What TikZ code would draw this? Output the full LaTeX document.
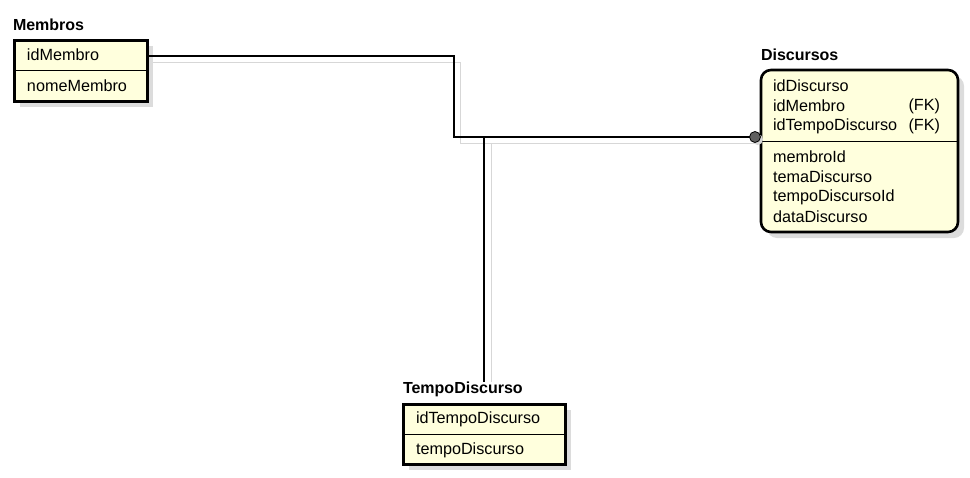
\documentclass[tikz,border=0pt]{standalone}
\usepackage{fontspec}
\setmainfont{Liberation Sans}
\usetikzlibrary{calc,shadows}
\definecolor{entfill}{RGB}{255,255,221}
\definecolor{shad}{RGB}{220,220,220}
\definecolor{lineshad}{RGB}{215,215,215}
\definecolor{dotfill}{RGB}{95,95,95}
\begin{document}
\begin{tikzpicture}[x=1pt,y=-1pt,
  every node/.style={font=\fontsize{16.2}{19}\selectfont, inner sep=0pt, outer sep=0pt},
  ent/.style={draw=black, line width=3pt, fill=entfill, anchor=north west,
    drop shadow={shadow xshift=6pt, shadow yshift=-6pt, fill=shad, opacity=1}},
  title/.style={anchor=west, font=\bfseries\fontsize{16}{19}\selectfont},
  row/.style={anchor=west},
  sep/.style={line width=1pt},
  conn/.style={line width=1.3pt, black},
  sconn/.style={line width=1pt, lineshad}]
\useasboundingbox (0,0) rectangle (970,477);

% shadow connectors
\draw[sconn] (147,62) -- (460,62) -- (460,143) -- (755,143);
\draw[sconn] (491,143) -- (491,382);

% Membros
\node[title] (tmem) at (13,25) {Membros};
\node[ent, minimum width=133pt, minimum height=61pt] (membros) at (14,40) {};
\draw[sep] ($(membros.north west)+(0,30)$) -- ($(membros.north east)+(0,30)$);
\node[row] (m1) at (27,55) {idMembro};
\node[row] (m2) at (27,86) {nomeMembro};

% Discursos
\node[title] (tdisc) at (761,55) {Discursos};
\node[ent, rounded corners=10pt, line width=2.6pt, minimum width=197pt, minimum height=162pt] (disc) at (761,70) {};
\draw[sep] ($(disc.north west)+(0,71)$) -- ($(disc.north east)+(0,71)$);
\node[row] (d1) at (773,86) {idDiscurso};
\node[row] (d2) at (773,106) {idMembro};
\node[row] (d3) at (773,126) {idTempoDiscurso};
\node[anchor=east] (fk1) at (940,106) {(FK)};
\node[anchor=east] (fk2) at (940,126) {(FK)};
\node[row] (d4) at (773,157) {membroId};
\node[row] (d5) at (773,177) {temaDiscurso};
\node[row] (d6) at (773,197) {tempoDiscursoId};
\node[row] (d7) at (773,217) {dataDiscurso};

% TempoDiscurso
\node[title] (ttempo) at (403,389) {TempoDiscurso};
\node[ent, minimum width=162pt, minimum height=60pt] (tempo) at (403,404) {};
\draw[sep] ($(tempo.north west)+(0,30)$) -- ($(tempo.north east)+(0,30)$);
\node[row] (t1) at (416,419) {idTempoDiscurso};
\node[row] (t2) at (416,450) {tempoDiscurso};

% connectors
\coordinate (c1) at (755,137);
\coordinate (bend) at (454,137);
\draw[conn] ($(membros.north east)+(0,16)$) -| (bend) -- (c1);
\draw[conn] (ttempo.north -| tempo.north) -- (tempo.north |- c1);
\fill[lineshad] (757.5,139.5) circle (5.5pt);
\draw[fill=dotfill, line width=0.8pt] (c1) circle (5.5pt);
\end{tikzpicture}
\end{document}
